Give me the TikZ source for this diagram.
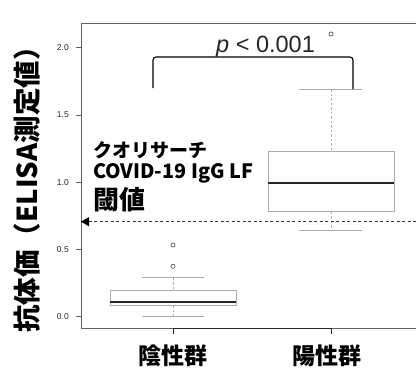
\documentclass[tikz,border=0pt]{standalone}
\usepackage{fontspec}
\setmainfont{Liberation Sans}
\newfontfamily\jp{Noto Sans CJK JP}
\usetikzlibrary{arrows.meta}
\tikzset{
  frameline/.style={draw=gray!75!black, line width=0.8pt},
  boxline/.style={draw=gray!65, line width=0.9pt},
  whisk/.style={draw=gray!65, line width=0.8pt, dash pattern=on 2.5pt off 2pt},
  capline/.style={draw=gray!65, line width=0.9pt},
  medline/.style={draw=black!85, line width=2pt},
  outl/.style={draw=gray!50!black, line width=0.6pt},
  ticklab/.style={font=\fontsize{8.5}{8.5}\selectfont, text=gray!30!black, anchor=east, inner sep=0pt},
  jpbold/.style={font=\jp\bfseries, inner sep=0pt},
}
\begin{document}
\begin{tikzpicture}[x=1pt,y=-1pt]
\useasboundingbox (0,0) rectangle (416,370);
\fill[white] (0,0) rectangle (416,370);

% frame
\draw[frameline] (416,23) -- (81,23) -- (81,328) -- (416,328);
% y ticks
\foreach \v/\l/\n in {0/0.0/a,0.5/0.5/b,1/1.0/c,1.5/1.5/d,2/2.0/e}{
  \pgfmathsetmacro\yy{316.7-134.5*\v}
  \draw[frameline] (76,\yy) -- (81,\yy);
  \node[ticklab] (tick\n) at (69,\yy) {\l};
}
% x axis
\coordinate (xa) at (173,328);
\coordinate (xb) at (331,328);
\draw[line width=1pt, gray!30!black] (xa) -- (xb);
\draw[line width=0.8pt, gray!30!black] (xa) -- ++(0,6);
\draw[line width=0.8pt, gray!30!black] (xb) -- ++(0,6);

% negative group
\coordinate (nwt) at (173,277.7);
\coordinate (nbt) at (173,290);
\coordinate (nbb) at (173,305);
\coordinate (nwb) at (173,316.7);
\draw[whisk] (nwt) -- (nbt);
\draw[whisk] (nbb) -- (nwb);
\draw[capline] (142,277.7) -- (204,277.7);
\draw[capline] (142,316.7) -- (204,316.7);
\draw[boxline] (110,290) rectangle (236,305);
\draw[medline] (110,302.3) -- (236,302.3);
\draw[outl] (173,245) circle (2.1pt);
\draw[outl] (173,266.3) circle (2.1pt);

% positive group
\coordinate (pwt) at (331,89.3);
\coordinate (pbt) at (331,151);
\coordinate (pbb) at (331,211.7);
\coordinate (pwb) at (331,230);
\draw[whisk] (pwt) -- (pbt);
\draw[whisk] (pbb) -- (pwb);
\draw[capline] (299,89.3) -- (362,89.3);
\draw[capline] (299,230) -- (362,230);
\draw[boxline] (268,151) rectangle (394,211.7);
\draw[medline] (268,183) -- (394,183);
\draw[outl] (331,34) circle (2.1pt);

% threshold
\coordinate (thr) at (416,221.7);
\coordinate (thl) at (81,221.7);
\draw[gray!40!black, line width=1pt, dash pattern=on 3pt off 2.5pt,
      -{Triangle[length=8pt,width=9pt,black]}] (thr) -- (thl);

% bracket
\coordinate (bl) at (153,88);
\coordinate (br) at (353,89);
\draw[black, line width=1.1pt, rounded corners=3pt] (bl) -- (153,57) -- (353,57) -- (br);
\node[anchor=base west, inner sep=0pt, font=\fontsize{23.5}{23.5}\selectfont, text=black!85] (pv) at (216,52) {\textit{p} < 0.001};

% annotation
\node[jpbold, anchor=base west, font=\jp\bfseries\fontsize{19}{19}\selectfont] (an1) at (93,157) {クオリサーチ};
\node[jpbold, anchor=base west, font=\jp\bfseries\fontsize{19.8}{19.8}\selectfont] (an2) at (93,178.5) {COVID-19 IgG LF};
\node[jpbold, anchor=base west, font=\jp\bfseries\fontsize{26}{26}\selectfont] (an3) at (93,209.5) {閾値};

% x labels
\node[jpbold, anchor=base, font=\jp\bfseries\fontsize{23}{23}\selectfont] (xl1) at (173,364) {陰性群};
\node[jpbold, anchor=base, font=\jp\bfseries\fontsize{23}{23}\selectfont] (xl2) at (327,364) {陽性群};

% y label
\node[jpbold, rotate=90, anchor=center, font=\jp\bfseries\fontsize{27.5}{27.5}\selectfont] (yl) at (27,183) {抗体価（ELISA測定値）};
\end{tikzpicture}
\end{document}
